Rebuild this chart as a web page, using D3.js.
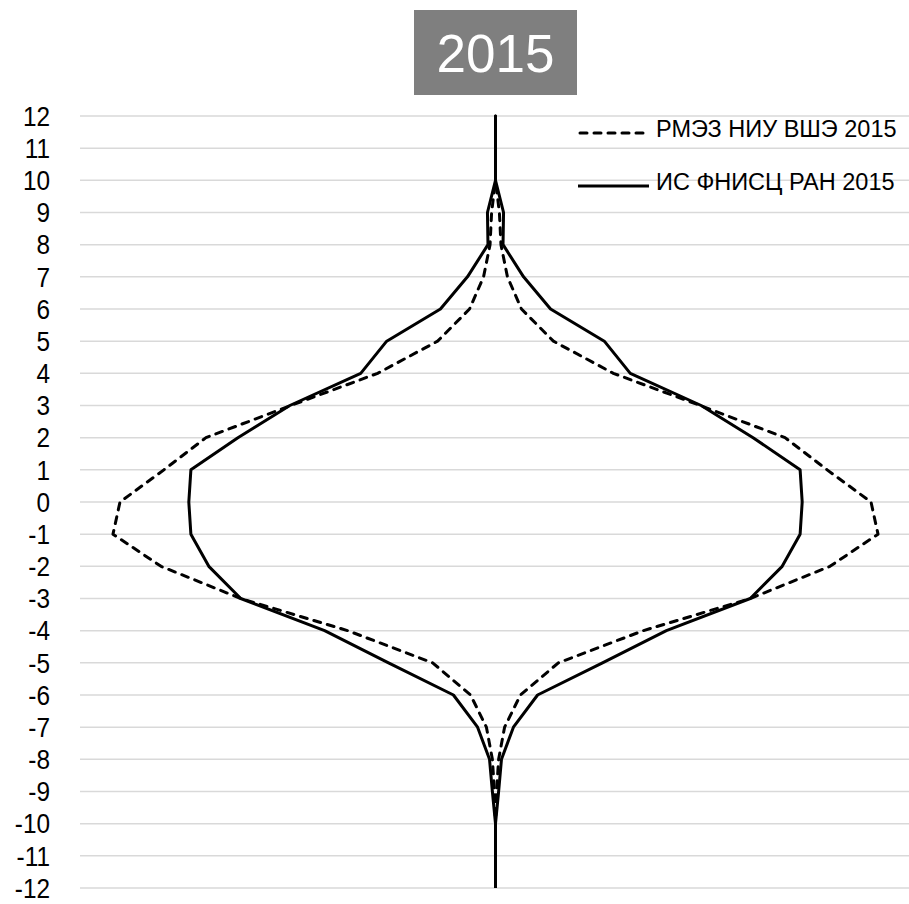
<!DOCTYPE html>
<html>
<head>
<meta charset="utf-8">
<script src="https://cdn.jsdelivr.net/npm/d3@7"></script>
<style>
  body { margin: 0; background: #fff; }
</style>
</head>
<body>
<svg id="chart" width="909" height="904"></svg>
<script>
// levels on the vertical axis, top to bottom
var levels = d3.range(12, -13, -1);

// share of respondents (%) at each level
var rmezValues = [0, 0, 0, 0.15, 0.21, 0.46, 1.0, 2.23, 4.54, 7.88, 11.15, 12.77, 14.46,
                  14.73, 12.88, 9.81, 5.69, 2.42, 0.96, 0.35, 0.12, 0.04, 0, 0, 0];
var isfniscValues = [0, 0, 0, 0.31, 0.29, 1.08, 2.12, 4.19, 5.19, 7.92, 9.92, 11.73, 11.81,
                     11.73, 11.04, 9.81, 6.58, 4.12, 1.62, 0.69, 0.23, 0.12, 0, 0, 0];

var seriesNames = ["РМЭЗ НИУ ВШЭ 2015", "ИС ФНИСЦ РАН 2015"];
var chartTitle = "2015";

var svg = d3.select("#chart");
var font = "'Liberation Sans', Arial, sans-serif";

var x = d3.scaleLinear().domain([-8, 8]).range([80, 911]);
var y = d3.scaleLinear().domain([-12, 12]).range([888, 116]);

// gridlines
svg.append("g")
	.attr("class", "grid")
	.selectAll("line")
	.data(levels)
	.enter()
	.append("line")
	.attr("x1", 80)
	.attr("x2", 909)
	.attr("y1", function (d) { return y(d); })
	.attr("y2", function (d) { return y(d); })
	.attr("stroke", "#d9d9d9")
	.attr("stroke-width", 1.5);

// y tick labels (slightly condensed like the original)
svg.append("g")
	.attr("class", "ticks")
	.selectAll("text")
	.data(levels)
	.enter()
	.append("text")
	.attr("transform", function (d) { return "translate(50," + y(d) + ") scale(0.87,1)"; })
	.attr("text-anchor", "end")
	.attr("dy", "0.35em")
	.style("font-family", font)
	.style("font-size", "28px")
	.attr("fill", "#000")
	.text(function (d) { return d; });

// the two series, mirrored left and right of the centre
var series = [
	{ name: seriesNames[0], values: rmezValues, dash: "7,7", cap: "round" },
	{ name: seriesNames[1], values: isfniscValues, dash: null, cap: "butt" }
];

series.forEach(function (s) {
	var pts = levels.map(function (lv, i) { return { level: lv, v: s.values[i] }; });
	[-1, 1].forEach(function (side) {
		var line = d3.line()
			.x(function (d) { return x(side * d.v / 2); })
			.y(function (d) { return y(d.level); });
		svg.append("path")
			.datum(pts)
			.attr("d", line)
			.attr("fill", "none")
			.attr("stroke", "#000")
			.attr("stroke-width", 3)
			.attr("stroke-linejoin", "round")
			.attr("stroke-linecap", s.cap)
			.attr("stroke-dasharray", s.dash);
	});
});

// legend
var legend = svg.append("g").attr("class", "legend");
var legendRows = [133, 186];
series.forEach(function (s, i) {
	legend.append("line")
		.attr("x1", s.dash ? 580 : 578)
		.attr("x2", 649)
		.attr("y1", legendRows[i])
		.attr("y2", legendRows[i])
		.attr("stroke", "#000")
		.attr("stroke-width", 3)
		.attr("stroke-linecap", s.cap)
		.attr("stroke-dasharray", s.dash);
	legend.append("text")
		.attr("x", 656)
		.attr("y", legendRows[i] + 4)
		.style("font-family", font)
		.style("font-size", "23.5px")
		.attr("fill", "#000")
		.text(s.name);
});

// title box
svg.append("rect")
	.attr("x", 414)
	.attr("y", 10)
	.attr("width", 163)
	.attr("height", 85)
	.attr("fill", "#7f7f7f");
svg.append("text")
	.attr("x", 495.5)
	.attr("y", 72)
	.attr("text-anchor", "middle")
	.style("font-family", font)
	.style("font-size", "53px")
	.attr("fill", "#fff")
	.text(chartTitle);
</script>
</body>
</html>
